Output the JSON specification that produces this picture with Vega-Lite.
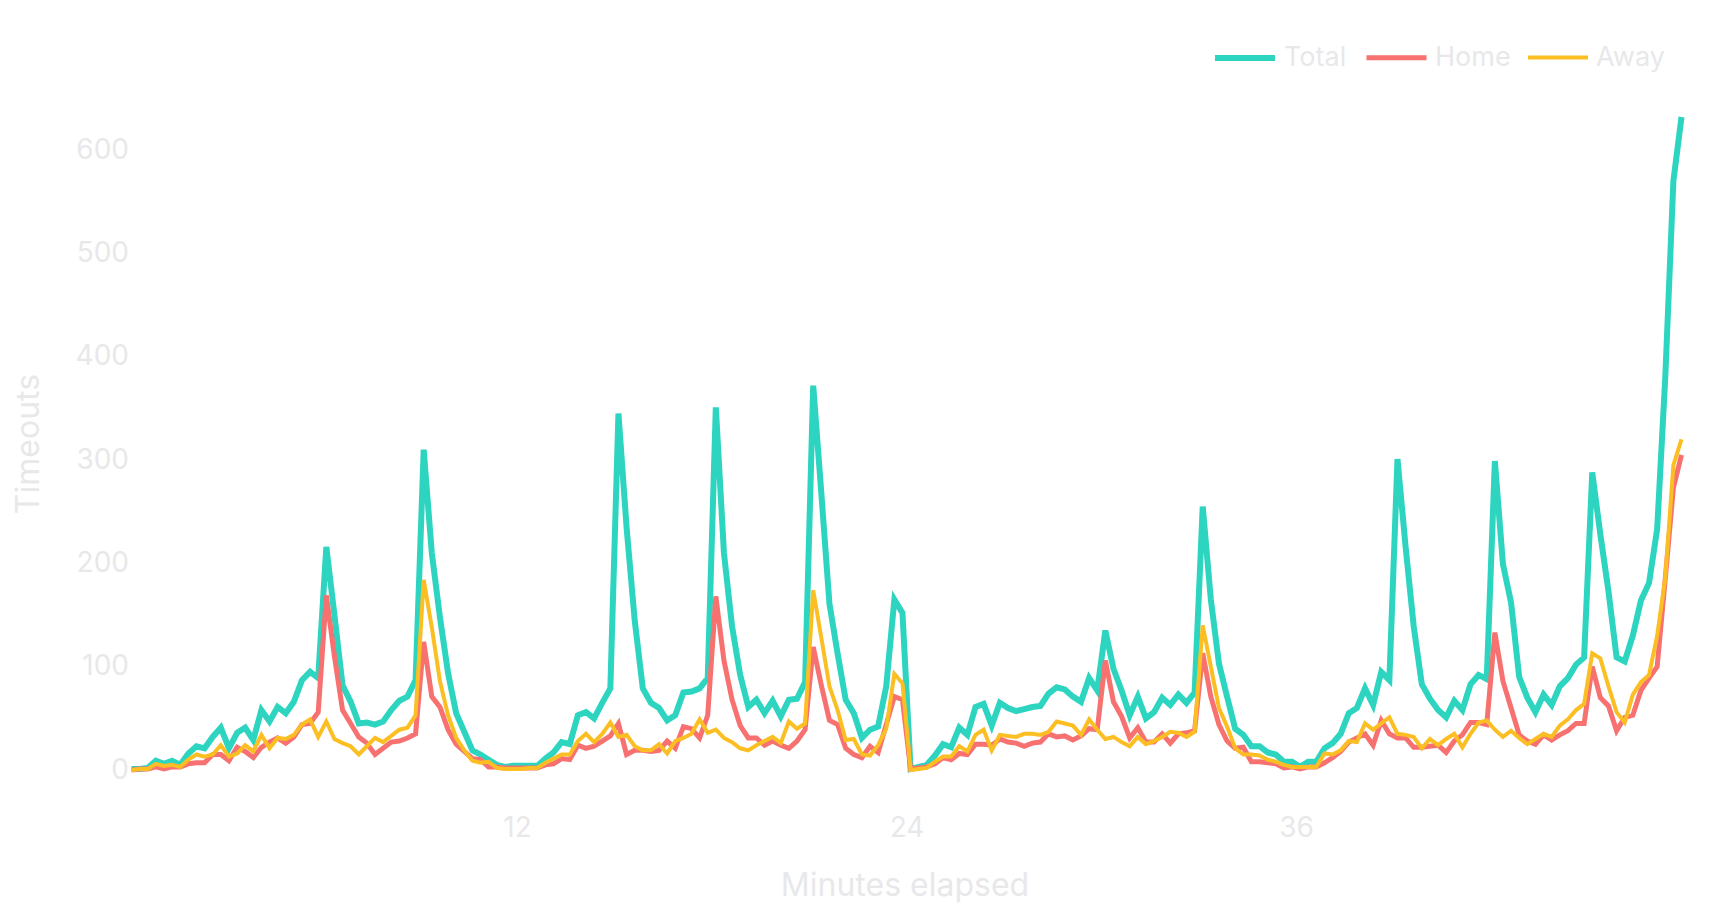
{
  "$schema": "https://vega.github.io/schema/vega-lite/v6.json",
  "width": 1554,
  "height": 653,
  "autosize": {"type": "none"},
  "padding": {"left": 127.5, "top": 117, "right": 38.5, "bottom": 150},
  "background": "white",
  "config": {"view": {"stroke": null}, "font": "Inter"},
  "data": {
    "values": [
      {"m":0.125,"s":"Total","v":1},{"m":0.375,"s":"Total","v":1},{"m":0.625,"s":"Total","v":2},{"m":0.875,"s":"Total","v":9},
      {"m":1.125,"s":"Total","v":6},{"m":1.375,"s":"Total","v":9},{"m":1.625,"s":"Total","v":5},{"m":1.875,"s":"Total","v":16},
      {"m":2.125,"s":"Total","v":23},{"m":2.375,"s":"Total","v":21},{"m":2.625,"s":"Total","v":32},{"m":2.875,"s":"Total","v":41},
      {"m":3.125,"s":"Total","v":21},{"m":3.375,"s":"Total","v":36},{"m":3.625,"s":"Total","v":41},{"m":3.875,"s":"Total","v":29},
      {"m":4.125,"s":"Total","v":58},{"m":4.375,"s":"Total","v":47},{"m":4.625,"s":"Total","v":61},{"m":4.875,"s":"Total","v":55},
      {"m":5.125,"s":"Total","v":66},{"m":5.375,"s":"Total","v":87},{"m":5.625,"s":"Total","v":95},{"m":5.875,"s":"Total","v":89},
      {"m":6.125,"s":"Total","v":216},{"m":6.375,"s":"Total","v":150},{"m":6.625,"s":"Total","v":82},{"m":6.875,"s":"Total","v":66},
      {"m":7.125,"s":"Total","v":45},{"m":7.375,"s":"Total","v":46},{"m":7.625,"s":"Total","v":44},{"m":7.875,"s":"Total","v":47},
      {"m":8.125,"s":"Total","v":58},{"m":8.375,"s":"Total","v":67},{"m":8.625,"s":"Total","v":71},{"m":8.875,"s":"Total","v":87},
      {"m":9.125,"s":"Total","v":310},{"m":9.375,"s":"Total","v":210},{"m":9.625,"s":"Total","v":148},{"m":9.875,"s":"Total","v":94},
      {"m":10.125,"s":"Total","v":55},{"m":10.375,"s":"Total","v":37},{"m":10.625,"s":"Total","v":19},{"m":10.875,"s":"Total","v":15},
      {"m":11.125,"s":"Total","v":10},{"m":11.375,"s":"Total","v":5},{"m":11.625,"s":"Total","v":3},{"m":11.875,"s":"Total","v":4},
      {"m":12.125,"s":"Total","v":4},{"m":12.375,"s":"Total","v":4},{"m":12.625,"s":"Total","v":4},{"m":12.875,"s":"Total","v":11},
      {"m":13.125,"s":"Total","v":17},{"m":13.375,"s":"Total","v":27},{"m":13.625,"s":"Total","v":25},{"m":13.875,"s":"Total","v":53},
      {"m":14.125,"s":"Total","v":56},{"m":14.375,"s":"Total","v":50},{"m":14.625,"s":"Total","v":65},{"m":14.875,"s":"Total","v":79},
      {"m":15.125,"s":"Total","v":345},{"m":15.375,"s":"Total","v":235},{"m":15.625,"s":"Total","v":145},{"m":15.875,"s":"Total","v":79},
      {"m":16.125,"s":"Total","v":65},{"m":16.375,"s":"Total","v":60},{"m":16.625,"s":"Total","v":48},{"m":16.875,"s":"Total","v":53},
      {"m":17.125,"s":"Total","v":75},{"m":17.375,"s":"Total","v":76},{"m":17.625,"s":"Total","v":79},{"m":17.875,"s":"Total","v":89},
      {"m":18.125,"s":"Total","v":351},{"m":18.375,"s":"Total","v":210},{"m":18.625,"s":"Total","v":139},{"m":18.875,"s":"Total","v":92},
      {"m":19.125,"s":"Total","v":61},{"m":19.375,"s":"Total","v":68},{"m":19.625,"s":"Total","v":55},{"m":19.875,"s":"Total","v":67},
      {"m":20.125,"s":"Total","v":52},{"m":20.375,"s":"Total","v":68},{"m":20.625,"s":"Total","v":69},{"m":20.875,"s":"Total","v":85},
      {"m":21.125,"s":"Total","v":372},{"m":21.375,"s":"Total","v":268},{"m":21.625,"s":"Total","v":161},{"m":21.875,"s":"Total","v":113},
      {"m":22.125,"s":"Total","v":68},{"m":22.375,"s":"Total","v":55},{"m":22.625,"s":"Total","v":31},{"m":22.875,"s":"Total","v":39},
      {"m":23.125,"s":"Total","v":42},{"m":23.375,"s":"Total","v":81},{"m":23.625,"s":"Total","v":165},{"m":23.875,"s":"Total","v":152},
      {"m":24.125,"s":"Total","v":1},{"m":24.375,"s":"Total","v":3},{"m":24.625,"s":"Total","v":5},{"m":24.875,"s":"Total","v":14},
      {"m":25.125,"s":"Total","v":25},{"m":25.375,"s":"Total","v":22},{"m":25.625,"s":"Total","v":41},{"m":25.875,"s":"Total","v":34},
      {"m":26.125,"s":"Total","v":61},{"m":26.375,"s":"Total","v":64},{"m":26.625,"s":"Total","v":43},{"m":26.875,"s":"Total","v":65},
      {"m":27.125,"s":"Total","v":60},{"m":27.375,"s":"Total","v":57},{"m":27.625,"s":"Total","v":59},{"m":27.875,"s":"Total","v":61},
      {"m":28.125,"s":"Total","v":62},{"m":28.375,"s":"Total","v":74},{"m":28.625,"s":"Total","v":80},{"m":28.875,"s":"Total","v":78},
      {"m":29.125,"s":"Total","v":71},{"m":29.375,"s":"Total","v":66},{"m":29.625,"s":"Total","v":89},{"m":29.875,"s":"Total","v":77},
      {"m":30.125,"s":"Total","v":135},{"m":30.375,"s":"Total","v":98},{"m":30.625,"s":"Total","v":77},{"m":30.875,"s":"Total","v":53},
      {"m":31.125,"s":"Total","v":71},{"m":31.375,"s":"Total","v":50},{"m":31.625,"s":"Total","v":56},{"m":31.875,"s":"Total","v":70},
      {"m":32.125,"s":"Total","v":63},{"m":32.375,"s":"Total","v":73},{"m":32.625,"s":"Total","v":65},{"m":32.875,"s":"Total","v":75},
      {"m":33.125,"s":"Total","v":255},{"m":33.375,"s":"Total","v":165},{"m":33.625,"s":"Total","v":103},{"m":33.875,"s":"Total","v":71},
      {"m":34.125,"s":"Total","v":40},{"m":34.375,"s":"Total","v":34},{"m":34.625,"s":"Total","v":23},{"m":34.875,"s":"Total","v":23},
      {"m":35.125,"s":"Total","v":17},{"m":35.375,"s":"Total","v":15},{"m":35.625,"s":"Total","v":8},{"m":35.875,"s":"Total","v":8},
      {"m":36.125,"s":"Total","v":3},{"m":36.375,"s":"Total","v":8},{"m":36.625,"s":"Total","v":8},{"m":36.875,"s":"Total","v":21},
      {"m":37.125,"s":"Total","v":26},{"m":37.375,"s":"Total","v":35},{"m":37.625,"s":"Total","v":55},{"m":37.875,"s":"Total","v":60},
      {"m":38.125,"s":"Total","v":79},{"m":38.375,"s":"Total","v":63},{"m":38.625,"s":"Total","v":95},{"m":38.875,"s":"Total","v":87},
      {"m":39.125,"s":"Total","v":301},{"m":39.375,"s":"Total","v":216},{"m":39.625,"s":"Total","v":139},{"m":39.875,"s":"Total","v":83},
      {"m":40.125,"s":"Total","v":69},{"m":40.375,"s":"Total","v":58},{"m":40.625,"s":"Total","v":51},{"m":40.875,"s":"Total","v":67},
      {"m":41.125,"s":"Total","v":58},{"m":41.375,"s":"Total","v":83},{"m":41.625,"s":"Total","v":92},{"m":41.875,"s":"Total","v":88},
      {"m":42.125,"s":"Total","v":299},{"m":42.375,"s":"Total","v":199},{"m":42.625,"s":"Total","v":162},{"m":42.875,"s":"Total","v":90},
      {"m":43.125,"s":"Total","v":70},{"m":43.375,"s":"Total","v":56},{"m":43.625,"s":"Total","v":73},{"m":43.875,"s":"Total","v":63},
      {"m":44.125,"s":"Total","v":81},{"m":44.375,"s":"Total","v":89},{"m":44.625,"s":"Total","v":102},{"m":44.875,"s":"Total","v":109},
      {"m":45.125,"s":"Total","v":288},{"m":45.375,"s":"Total","v":228},{"m":45.625,"s":"Total","v":173},{"m":45.875,"s":"Total","v":109},
      {"m":46.125,"s":"Total","v":105},{"m":46.375,"s":"Total","v":130},{"m":46.625,"s":"Total","v":164},{"m":46.875,"s":"Total","v":181},
      {"m":47.125,"s":"Total","v":233},{"m":47.375,"s":"Total","v":380},{"m":47.625,"s":"Total","v":570},{"m":47.875,"s":"Total","v":632},

      {"m":0.125,"s":"Home","v":0},{"m":0.375,"s":"Home","v":1},{"m":0.625,"s":"Home","v":1},{"m":0.875,"s":"Home","v":3},
      {"m":1.125,"s":"Home","v":1},{"m":1.375,"s":"Home","v":3},{"m":1.625,"s":"Home","v":3},{"m":1.875,"s":"Home","v":6},
      {"m":2.125,"s":"Home","v":7},{"m":2.375,"s":"Home","v":7},{"m":2.625,"s":"Home","v":15},{"m":2.875,"s":"Home","v":15},
      {"m":3.125,"s":"Home","v":9},{"m":3.375,"s":"Home","v":22},{"m":3.625,"s":"Home","v":18},{"m":3.875,"s":"Home","v":12},
      {"m":4.125,"s":"Home","v":22},{"m":4.375,"s":"Home","v":27},{"m":4.625,"s":"Home","v":31},{"m":4.875,"s":"Home","v":26},
      {"m":5.125,"s":"Home","v":32},{"m":5.375,"s":"Home","v":44},{"m":5.625,"s":"Home","v":45},{"m":5.875,"s":"Home","v":56},
      {"m":6.125,"s":"Home","v":169},{"m":6.375,"s":"Home","v":110},{"m":6.625,"s":"Home","v":58},{"m":6.875,"s":"Home","v":45},
      {"m":7.125,"s":"Home","v":32},{"m":7.375,"s":"Home","v":26},{"m":7.625,"s":"Home","v":15},{"m":7.875,"s":"Home","v":21},
      {"m":8.125,"s":"Home","v":27},{"m":8.375,"s":"Home","v":28},{"m":8.625,"s":"Home","v":31},{"m":8.875,"s":"Home","v":35},
      {"m":9.125,"s":"Home","v":124},{"m":9.375,"s":"Home","v":71},{"m":9.625,"s":"Home","v":61},{"m":9.875,"s":"Home","v":39},
      {"m":10.125,"s":"Home","v":25},{"m":10.375,"s":"Home","v":18},{"m":10.625,"s":"Home","v":11},{"m":10.875,"s":"Home","v":10},
      {"m":11.125,"s":"Home","v":3},{"m":11.375,"s":"Home","v":3},{"m":11.625,"s":"Home","v":2},{"m":11.875,"s":"Home","v":2},
      {"m":12.125,"s":"Home","v":2},{"m":12.375,"s":"Home","v":2},{"m":12.625,"s":"Home","v":2},{"m":12.875,"s":"Home","v":5},
      {"m":13.125,"s":"Home","v":6},{"m":13.375,"s":"Home","v":11},{"m":13.625,"s":"Home","v":10},{"m":13.875,"s":"Home","v":24},
      {"m":14.125,"s":"Home","v":21},{"m":14.375,"s":"Home","v":23},{"m":14.625,"s":"Home","v":28},{"m":14.875,"s":"Home","v":33},
      {"m":15.125,"s":"Home","v":45},{"m":15.375,"s":"Home","v":15},{"m":15.625,"s":"Home","v":19},{"m":15.875,"s":"Home","v":19},
      {"m":16.125,"s":"Home","v":18},{"m":16.375,"s":"Home","v":19},{"m":16.625,"s":"Home","v":28},{"m":16.875,"s":"Home","v":21},
      {"m":17.125,"s":"Home","v":42},{"m":17.375,"s":"Home","v":40},{"m":17.625,"s":"Home","v":31},{"m":17.875,"s":"Home","v":53},
      {"m":18.125,"s":"Home","v":168},{"m":18.375,"s":"Home","v":106},{"m":18.625,"s":"Home","v":68},{"m":18.875,"s":"Home","v":43},
      {"m":19.125,"s":"Home","v":31},{"m":19.375,"s":"Home","v":31},{"m":19.625,"s":"Home","v":24},{"m":19.875,"s":"Home","v":28},
      {"m":20.125,"s":"Home","v":24},{"m":20.375,"s":"Home","v":21},{"m":20.625,"s":"Home","v":28},{"m":20.875,"s":"Home","v":39},
      {"m":21.125,"s":"Home","v":119},{"m":21.375,"s":"Home","v":82},{"m":21.625,"s":"Home","v":48},{"m":21.875,"s":"Home","v":44},
      {"m":22.125,"s":"Home","v":21},{"m":22.375,"s":"Home","v":15},{"m":22.625,"s":"Home","v":12},{"m":22.875,"s":"Home","v":23},
      {"m":23.125,"s":"Home","v":17},{"m":23.375,"s":"Home","v":44},{"m":23.625,"s":"Home","v":71},{"m":23.875,"s":"Home","v":68},
      {"m":24.125,"s":"Home","v":1},{"m":24.375,"s":"Home","v":2},{"m":24.625,"s":"Home","v":3},{"m":24.875,"s":"Home","v":6},
      {"m":25.125,"s":"Home","v":12},{"m":25.375,"s":"Home","v":10},{"m":25.625,"s":"Home","v":16},{"m":25.875,"s":"Home","v":15},
      {"m":26.125,"s":"Home","v":25},{"m":26.375,"s":"Home","v":25},{"m":26.625,"s":"Home","v":24},{"m":26.875,"s":"Home","v":30},
      {"m":27.125,"s":"Home","v":27},{"m":27.375,"s":"Home","v":26},{"m":27.625,"s":"Home","v":23},{"m":27.875,"s":"Home","v":26},
      {"m":28.125,"s":"Home","v":27},{"m":28.375,"s":"Home","v":35},{"m":28.625,"s":"Home","v":32},{"m":28.875,"s":"Home","v":33},
      {"m":29.125,"s":"Home","v":29},{"m":29.375,"s":"Home","v":33},{"m":29.625,"s":"Home","v":40},{"m":29.875,"s":"Home","v":39},
      {"m":30.125,"s":"Home","v":106},{"m":30.375,"s":"Home","v":66},{"m":30.625,"s":"Home","v":52},{"m":30.875,"s":"Home","v":31},
      {"m":31.125,"s":"Home","v":41},{"m":31.375,"s":"Home","v":27},{"m":31.625,"s":"Home","v":27},{"m":31.875,"s":"Home","v":35},
      {"m":32.125,"s":"Home","v":26},{"m":32.375,"s":"Home","v":35},{"m":32.625,"s":"Home","v":36},{"m":32.875,"s":"Home","v":38},
      {"m":33.125,"s":"Home","v":113},{"m":33.375,"s":"Home","v":71},{"m":33.625,"s":"Home","v":44},{"m":33.875,"s":"Home","v":28},
      {"m":34.125,"s":"Home","v":21},{"m":34.375,"s":"Home","v":22},{"m":34.625,"s":"Home","v":8},{"m":34.875,"s":"Home","v":8},
      {"m":35.125,"s":"Home","v":7},{"m":35.375,"s":"Home","v":6},{"m":35.625,"s":"Home","v":2},{"m":35.875,"s":"Home","v":3},
      {"m":36.125,"s":"Home","v":1},{"m":36.375,"s":"Home","v":3},{"m":36.625,"s":"Home","v":3},{"m":36.875,"s":"Home","v":7},
      {"m":37.125,"s":"Home","v":12},{"m":37.375,"s":"Home","v":18},{"m":37.625,"s":"Home","v":27},{"m":37.875,"s":"Home","v":31},
      {"m":38.125,"s":"Home","v":35},{"m":38.375,"s":"Home","v":24},{"m":38.625,"s":"Home","v":48},{"m":38.875,"s":"Home","v":35},
      {"m":39.125,"s":"Home","v":31},{"m":39.375,"s":"Home","v":31},{"m":39.625,"s":"Home","v":22},{"m":39.875,"s":"Home","v":22},
      {"m":40.125,"s":"Home","v":23},{"m":40.375,"s":"Home","v":24},{"m":40.625,"s":"Home","v":17},{"m":40.875,"s":"Home","v":28},
      {"m":41.125,"s":"Home","v":34},{"m":41.375,"s":"Home","v":46},{"m":41.625,"s":"Home","v":46},{"m":41.875,"s":"Home","v":44},
      {"m":42.125,"s":"Home","v":133},{"m":42.375,"s":"Home","v":86},{"m":42.625,"s":"Home","v":60},{"m":42.875,"s":"Home","v":34},
      {"m":43.125,"s":"Home","v":28},{"m":43.375,"s":"Home","v":25},{"m":43.625,"s":"Home","v":34},{"m":43.875,"s":"Home","v":29},
      {"m":44.125,"s":"Home","v":34},{"m":44.375,"s":"Home","v":38},{"m":44.625,"s":"Home","v":45},{"m":44.875,"s":"Home","v":45},
      {"m":45.125,"s":"Home","v":100},{"m":45.375,"s":"Home","v":70},{"m":45.625,"s":"Home","v":62},{"m":45.875,"s":"Home","v":38},
      {"m":46.125,"s":"Home","v":51},{"m":46.375,"s":"Home","v":53},{"m":46.625,"s":"Home","v":77},{"m":46.875,"s":"Home","v":89},
      {"m":47.125,"s":"Home","v":100},{"m":47.375,"s":"Home","v":185},{"m":47.625,"s":"Home","v":273},{"m":47.875,"s":"Home","v":305},

      {"m":0.125,"s":"Away","v":0},{"m":0.375,"s":"Away","v":1},{"m":0.625,"s":"Away","v":1},{"m":0.875,"s":"Away","v":6},
      {"m":1.125,"s":"Away","v":4},{"m":1.375,"s":"Away","v":5},{"m":1.625,"s":"Away","v":3},{"m":1.875,"s":"Away","v":10},
      {"m":2.125,"s":"Away","v":15},{"m":2.375,"s":"Away","v":13},{"m":2.625,"s":"Away","v":15},{"m":2.875,"s":"Away","v":24},
      {"m":3.125,"s":"Away","v":13},{"m":3.375,"s":"Away","v":16},{"m":3.625,"s":"Away","v":24},{"m":3.875,"s":"Away","v":18},
      {"m":4.125,"s":"Away","v":34},{"m":4.375,"s":"Away","v":21},{"m":4.625,"s":"Away","v":31},{"m":4.875,"s":"Away","v":30},
      {"m":5.125,"s":"Away","v":34},{"m":5.375,"s":"Away","v":44},{"m":5.625,"s":"Away","v":49},{"m":5.875,"s":"Away","v":32},
      {"m":6.125,"s":"Away","v":47},{"m":6.375,"s":"Away","v":30},{"m":6.625,"s":"Away","v":26},{"m":6.875,"s":"Away","v":23},
      {"m":7.125,"s":"Away","v":15},{"m":7.375,"s":"Away","v":23},{"m":7.625,"s":"Away","v":31},{"m":7.875,"s":"Away","v":27},
      {"m":8.125,"s":"Away","v":33},{"m":8.375,"s":"Away","v":39},{"m":8.625,"s":"Away","v":41},{"m":8.875,"s":"Away","v":53},
      {"m":9.125,"s":"Away","v":184},{"m":9.375,"s":"Away","v":138},{"m":9.625,"s":"Away","v":86},{"m":9.875,"s":"Away","v":53},
      {"m":10.125,"s":"Away","v":31},{"m":10.375,"s":"Away","v":19},{"m":10.625,"s":"Away","v":9},{"m":10.875,"s":"Away","v":7},
      {"m":11.125,"s":"Away","v":8},{"m":11.375,"s":"Away","v":2},{"m":11.625,"s":"Away","v":1},{"m":11.875,"s":"Away","v":1},
      {"m":12.125,"s":"Away","v":1},{"m":12.375,"s":"Away","v":2},{"m":12.625,"s":"Away","v":2},{"m":12.875,"s":"Away","v":7},
      {"m":13.125,"s":"Away","v":11},{"m":13.375,"s":"Away","v":15},{"m":13.625,"s":"Away","v":15},{"m":13.875,"s":"Away","v":28},
      {"m":14.125,"s":"Away","v":35},{"m":14.375,"s":"Away","v":27},{"m":14.625,"s":"Away","v":35},{"m":14.875,"s":"Away","v":46},
      {"m":15.125,"s":"Away","v":32},{"m":15.375,"s":"Away","v":34},{"m":15.625,"s":"Away","v":23},{"m":15.875,"s":"Away","v":19},
      {"m":16.125,"s":"Away","v":19},{"m":16.375,"s":"Away","v":25},{"m":16.625,"s":"Away","v":16},{"m":16.875,"s":"Away","v":28},
      {"m":17.125,"s":"Away","v":31},{"m":17.375,"s":"Away","v":35},{"m":17.625,"s":"Away","v":49},{"m":17.875,"s":"Away","v":36},
      {"m":18.125,"s":"Away","v":39},{"m":18.375,"s":"Away","v":31},{"m":18.625,"s":"Away","v":27},{"m":18.875,"s":"Away","v":21},
      {"m":19.125,"s":"Away","v":19},{"m":19.375,"s":"Away","v":24},{"m":19.625,"s":"Away","v":28},{"m":19.875,"s":"Away","v":32},
      {"m":20.125,"s":"Away","v":26},{"m":20.375,"s":"Away","v":47},{"m":20.625,"s":"Away","v":40},{"m":20.875,"s":"Away","v":45},
      {"m":21.125,"s":"Away","v":174},{"m":21.375,"s":"Away","v":128},{"m":21.625,"s":"Away","v":81},{"m":21.875,"s":"Away","v":58},
      {"m":22.125,"s":"Away","v":29},{"m":22.375,"s":"Away","v":30},{"m":22.625,"s":"Away","v":15},{"m":22.875,"s":"Away","v":14},
      {"m":23.125,"s":"Away","v":24},{"m":23.375,"s":"Away","v":40},{"m":23.625,"s":"Away","v":93},{"m":23.875,"s":"Away","v":84},
      {"m":24.125,"s":"Away","v":0},{"m":24.375,"s":"Away","v":1},{"m":24.625,"s":"Away","v":2},{"m":24.875,"s":"Away","v":8},
      {"m":25.125,"s":"Away","v":13},{"m":25.375,"s":"Away","v":13},{"m":25.625,"s":"Away","v":23},{"m":25.875,"s":"Away","v":18},
      {"m":26.125,"s":"Away","v":34},{"m":26.375,"s":"Away","v":39},{"m":26.625,"s":"Away","v":19},{"m":26.875,"s":"Away","v":34},
      {"m":27.125,"s":"Away","v":33},{"m":27.375,"s":"Away","v":32},{"m":27.625,"s":"Away","v":35},{"m":27.875,"s":"Away","v":35},
      {"m":28.125,"s":"Away","v":34},{"m":28.375,"s":"Away","v":37},{"m":28.625,"s":"Away","v":47},{"m":28.875,"s":"Away","v":45},
      {"m":29.125,"s":"Away","v":43},{"m":29.375,"s":"Away","v":34},{"m":29.625,"s":"Away","v":49},{"m":29.875,"s":"Away","v":39},
      {"m":30.125,"s":"Away","v":30},{"m":30.375,"s":"Away","v":32},{"m":30.625,"s":"Away","v":27},{"m":30.875,"s":"Away","v":23},
      {"m":31.125,"s":"Away","v":32},{"m":31.375,"s":"Away","v":25},{"m":31.625,"s":"Away","v":28},{"m":31.875,"s":"Away","v":32},
      {"m":32.125,"s":"Away","v":37},{"m":32.375,"s":"Away","v":36},{"m":32.625,"s":"Away","v":32},{"m":32.875,"s":"Away","v":37},
      {"m":33.125,"s":"Away","v":140},{"m":33.375,"s":"Away","v":100},{"m":33.625,"s":"Away","v":60},{"m":33.875,"s":"Away","v":42},
      {"m":34.125,"s":"Away","v":21},{"m":34.375,"s":"Away","v":15},{"m":34.625,"s":"Away","v":15},{"m":34.875,"s":"Away","v":14},
      {"m":35.125,"s":"Away","v":10},{"m":35.375,"s":"Away","v":8},{"m":35.625,"s":"Away","v":5},{"m":35.875,"s":"Away","v":3},
      {"m":36.125,"s":"Away","v":3},{"m":36.375,"s":"Away","v":3},{"m":36.625,"s":"Away","v":3},{"m":36.875,"s":"Away","v":16},
      {"m":37.125,"s":"Away","v":15},{"m":37.375,"s":"Away","v":19},{"m":37.625,"s":"Away","v":28},{"m":37.875,"s":"Away","v":27},
      {"m":38.125,"s":"Away","v":45},{"m":38.375,"s":"Away","v":39},{"m":38.625,"s":"Away","v":45},{"m":38.875,"s":"Away","v":51},
      {"m":39.125,"s":"Away","v":35},{"m":39.375,"s":"Away","v":34},{"m":39.625,"s":"Away","v":32},{"m":39.875,"s":"Away","v":21},
      {"m":40.125,"s":"Away","v":30},{"m":40.375,"s":"Away","v":24},{"m":40.625,"s":"Away","v":30},{"m":40.875,"s":"Away","v":35},
      {"m":41.125,"s":"Away","v":22},{"m":41.375,"s":"Away","v":35},{"m":41.625,"s":"Away","v":46},{"m":41.875,"s":"Away","v":48},
      {"m":42.125,"s":"Away","v":39},{"m":42.375,"s":"Away","v":32},{"m":42.625,"s":"Away","v":38},{"m":42.875,"s":"Away","v":31},
      {"m":43.125,"s":"Away","v":25},{"m":43.375,"s":"Away","v":30},{"m":43.625,"s":"Away","v":35},{"m":43.875,"s":"Away","v":32},
      {"m":44.125,"s":"Away","v":43},{"m":44.375,"s":"Away","v":49},{"m":44.625,"s":"Away","v":58},{"m":44.875,"s":"Away","v":64},
      {"m":45.125,"s":"Away","v":113},{"m":45.375,"s":"Away","v":108},{"m":45.625,"s":"Away","v":81},{"m":45.875,"s":"Away","v":56},
      {"m":46.125,"s":"Away","v":46},{"m":46.375,"s":"Away","v":73},{"m":46.625,"s":"Away","v":85},{"m":46.875,"s":"Away","v":92},
      {"m":47.125,"s":"Away","v":130},{"m":47.375,"s":"Away","v":186},{"m":47.625,"s":"Away","v":295},{"m":47.875,"s":"Away","v":320}
    ]
  },
  "mark": {"type": "line"},
  "encoding": {
    "x": {
      "field": "m",
      "type": "quantitative",
      "scale": {"domain": [0, 47.875], "nice": false, "zero": false},
      "axis": {
        "values": [12, 24, 36],
        "title": "Minutes elapsed",
        "grid": false,
        "domain": false,
        "ticks": false,
        "tickSize": 0,
        "labelFontSize": 28,
        "labelColor": "#e8e8ea",
        "labelPadding": 66,
        "labelBaseline": "alphabetic",
        "titleFontSize": 32,
        "titleFontWeight": "normal",
        "titleColor": "#e8e8ea",
        "titleX": 777,
        "titleY": 125,
        "titleAlign": "center",
        "titleBaseline": "alphabetic"
      }
    },
    "y": {
      "field": "v",
      "type": "quantitative",
      "scale": {"domain": [0, 632], "nice": false},
      "axis": {
        "values": [0, 100, 200, 300, 400, 500, 600],
        "title": "Timeouts",
        "grid": false,
        "domain": false,
        "ticks": false,
        "tickSize": 0,
        "labelFontSize": 28,
        "labelColor": "#e8e8ea",
        "labelPadding": -1,
        "titleFontSize": 32,
        "titleFontWeight": "normal",
        "titleColor": "#e8e8ea",
        "titleX": -89,
        "titleY": 326.5,
        "titleAngle": -90,
        "titleAlign": "center",
        "titleBaseline": "alphabetic"
      }
    },
    "color": {
      "field": "s",
      "type": "nominal",
      "scale": {"domain": ["Total", "Home", "Away"], "range": ["#2dd4bf", "#f87171", "#fbbf24"]},
      "legend": {
        "title": null,
        "orient": "none",
        "direction": "horizontal",
        "legendX": 1084.5,
        "legendY": -92,
        "padding": 0,
        "symbolType": "stroke",
        "symbolSize": 3600,
        "symbolStrokeWidth": 4,
        "labelFontSize": 27,
        "labelColor": "#e8e8ea",
        "labelOffset": 6,
        "columnPadding": 9,
        "encode": {"symbols": {"update": {"strokeWidth": {"signal": "datum.value === 'Total' ? 6 : 4"}}}}
      }
    },
    "strokeWidth": {
      "field": "s",
      "type": "ordinal",
      "scale": {"domain": ["Total", "Home", "Away"], "range": [6, 4, 4]},
      "legend": null
    }
  }
}
